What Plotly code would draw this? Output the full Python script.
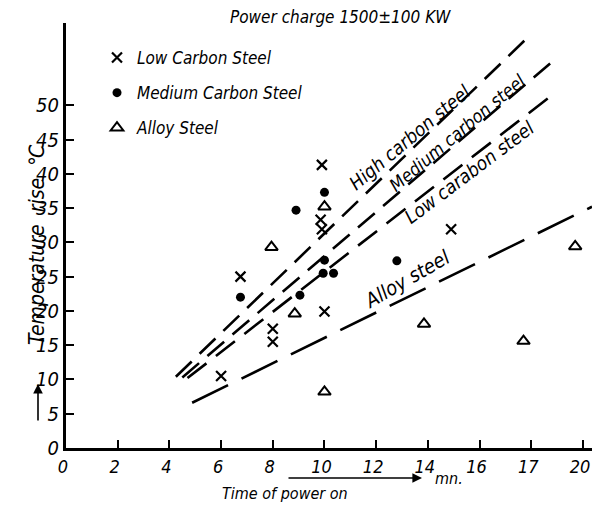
import plotly.graph_objects as go

# ---- data ----
low_x = [6.0, 6.75, 8.0, 8.0, 9.85, 9.9, 9.9, 10.0, 14.9]
low_y = [10.5, 25.0, 17.4, 15.5, 33.3, 31.9, 41.3, 19.9, 31.9]

med_x = [6.75, 8.9, 9.05, 9.95, 10.0, 10.0, 10.35, 12.8]
med_y = [22.0, 34.7, 22.3, 25.5, 27.4, 37.3, 25.5, 27.3]

alloy_x = [7.95, 8.85, 10.0, 10.0, 13.85, 17.7, 19.7]
alloy_y = [29.3, 19.6, 35.2, 8.2, 18.1, 15.6, 29.4]

# trend lines (start, end)
high_line_x = [4.25, 17.95]
high_line_y = [10.4, 60.2]
med_line_x = [4.5, 18.73]
med_line_y = [10.3, 56.1]
low_line_x = [4.7, 18.98]
low_line_y = [10.2, 52.0]
alloy_line_x = [4.88, 20.35]
alloy_line_y = [6.6, 35.2]

x_ticks = [0, 2, 4, 6, 8, 10, 12, 14, 16, 18, 20]
x_ticklabels = ["0", "2", "4", "6", "8", "10", "12", "14", "16", "17", "20"]
y_ticks = [0, 5, 10, 15, 20, 25, 30, 35, 40, 45, 50]

FONT = "DejaVu Sans Condensed, Liberation Sans, sans-serif"

fig = go.Figure()

for lx, ly, dash in [
    (high_line_x, high_line_y, "22px,11px"),
    (med_line_x, med_line_y, "22px,11px"),
    (low_line_x, low_line_y, "24px,12px"),
    (alloy_line_x, alloy_line_y, "40px,15px"),
]:
    fig.add_trace(go.Scatter(x=lx, y=ly, mode="lines", showlegend=False,
                             line=dict(color="black", width=2.6, dash=dash),
                             hoverinfo="skip"))

fig.add_trace(go.Scatter(x=low_x, y=low_y, mode="markers", name="Low Carbon Steel",
                         legendgroup="a",
                         marker=dict(symbol="x-thin", size=10, color="black",
                                     line=dict(color="black", width=2.2))))
fig.add_trace(go.Scatter(x=med_x, y=med_y, mode="markers", name="Medium Carbon Steel",
                         legendgroup="b",
                         marker=dict(symbol="circle", size=9, color="black")))
fig.add_trace(go.Scatter(x=alloy_x, y=alloy_y, mode="markers", name="Alloy Steel",
                         legendgroup="c",
                         marker=dict(symbol="triangle-up-open", size=11, color="black",
                                     line=dict(color="black", width=2))))

ann_font = dict(family=FONT, size=19, color="black", style="italic")
PW, PH = 526, 425  # plot area size in px


def px_x(p):
    return (p - 66) / PW


def px_y(p):
    return (448 - p) / PH


annotations = [
    dict(text="Power charge 1500±100 KW", xref="paper", yref="paper",
         x=px_x(340), y=px_y(17), xanchor="center", yanchor="middle", showarrow=False,
         font=dict(family=FONT, size=17, color="black", style="italic")),
    dict(text="High carbon steel", x=13.3, y=45.4, textangle=-40, showarrow=False, font=ann_font),
    dict(text="Medium carbon steel", x=15.15, y=46.0, textangle=-40, showarrow=False,
         font=dict(family=FONT, size=18, color="black", style="italic")),
    dict(text="Low carabon steel", x=15.6, y=40.3, textangle=-37, showarrow=False, font=ann_font),
    dict(text="Alloy steel", x=13.2, y=24.6, textangle=-30, showarrow=False,
         font=dict(family=FONT, size=20, color="black", style="italic")),
    dict(text="Temperature  rise  ℃", xref="paper", yref="paper",
         x=px_x(37), y=px_y(245), xanchor="center", yanchor="middle",
         textangle=-90, showarrow=False,
         font=dict(family=FONT, size=21, color="black", style="italic")),
    dict(text="", xref="paper", yref="paper",
         x=px_x(38), y=px_y(384),
         ax=0, ay=38, showarrow=True, arrowhead=2, arrowsize=1.2,
         arrowwidth=1.6, arrowcolor="black"),
    dict(text="Time of power on", xref="paper", yref="paper",
         x=px_x(285), y=px_y(494), xanchor="center", yanchor="middle", showarrow=False,
         font=dict(family=FONT, size=16, color="black", style="italic")),
    dict(text="", xref="paper", yref="paper",
         x=px_x(422), y=px_y(478),
         ax=-135, ay=0, showarrow=True, arrowhead=2, arrowsize=1.2,
         arrowwidth=1.6, arrowcolor="black"),
    dict(text="mn.", xref="paper", yref="paper",
         x=px_x(433), y=px_y(478), xanchor="left", yanchor="middle", showarrow=False,
         font=dict(family=FONT, size=16, color="black", style="italic")),
]

# the page body has an 8px default margin, so the figure is drawn 16px smaller
fig.update_layout(
    width=584, height=497,
    margin=dict(l=58, r=0, t=15, b=57, autoexpand=False),
    paper_bgcolor="white", plot_bgcolor="white",
    font=dict(family=FONT, color="black"),
    annotations=annotations,
    legend=dict(x=px_x(97), y=px_y(40), xanchor="left", yanchor="top",
                bgcolor="rgba(0,0,0,0)", tracegroupgap=10,
                font=dict(family=FONT, size=17, color="black", style="italic")),
    showlegend=True,
)

fig.update_xaxes(range=[0, 20.35], tickmode="array", tickvals=x_ticks, ticktext=x_ticklabels,
                 automargin=False, ticklabeloverflow="allow", ticklabelshift=-3,
                 showgrid=False, zeroline=False, showline=True, linecolor="black", linewidth=3,
                 ticks="inside", ticklen=8, tickwidth=2, tickcolor="black",
                 tickfont=dict(family=FONT, size=18, color="black", style="italic"))
fig.update_yaxes(range=[0, 62], tickmode="array", tickvals=y_ticks,
                 automargin=False, ticklabeloverflow="allow",
                 showgrid=False, zeroline=False, showline=True, linecolor="black", linewidth=3,
                 ticks="inside", ticklen=8, tickwidth=2, tickcolor="black",
                 tickfont=dict(family=FONT, size=20, color="black", style="italic"))

fig.write_html("out.html")
